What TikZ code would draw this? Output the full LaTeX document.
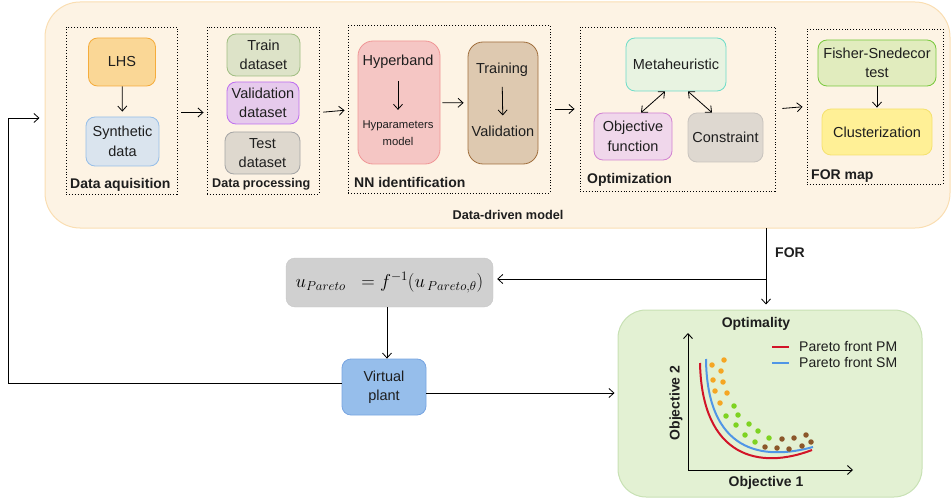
\documentclass[tikz,border=0pt]{standalone}
\usepackage{graphicx}
\usepackage{fontspec}
\setmainfont{Liberation Sans}
\usetikzlibrary{arrows.meta,calc}

\definecolor{ddmfill}{RGB}{253,243,228}
\definecolor{ddmline}{RGB}{250,222,178}
\definecolor{lhsfill}{RGB}{250,215,150}
\definecolor{lhsline}{RGB}{245,172,60}
\definecolor{synfill}{RGB}{218,228,238}
\definecolor{synline}{RGB}{150,190,232}
\definecolor{trnfill}{RGB}{221,227,200}
\definecolor{trnline}{RGB}{160,190,130}
\definecolor{valfill}{RGB}{230,202,236}
\definecolor{valline}{RGB}{190,110,240}
\definecolor{tstfill}{RGB}{222,216,206}
\definecolor{tstline}{RGB}{165,165,165}
\definecolor{hypfill}{RGB}{245,198,196}
\definecolor{hypline}{RGB}{240,150,150}
\definecolor{tvfill}{RGB}{222,201,176}
\definecolor{tvline}{RGB}{160,110,60}
\definecolor{metfill}{RGB}{232,243,225}
\definecolor{metline}{RGB}{110,220,200}
\definecolor{objfill}{RGB}{240,215,235}
\definecolor{objline}{RGB}{210,130,210}
\definecolor{confill}{RGB}{222,216,208}
\definecolor{conline}{RGB}{200,195,190}
\definecolor{fisfill}{RGB}{225,236,190}
\definecolor{fisline}{RGB}{120,200,60}
\definecolor{clufill}{RGB}{255,240,150}
\definecolor{cluline}{RGB}{245,225,110}
\definecolor{frmfill}{RGB}{208,208,208}
\definecolor{frmline}{RGB}{198,198,198}
\definecolor{vpfill}{RGB}{150,190,235}
\definecolor{vpline}{RGB}{120,165,225}
\definecolor{optfill}{RGB}{227,241,211}
\definecolor{optline}{RGB}{200,225,180}
\definecolor{pmred}{RGB}{210,20,40}
\definecolor{smblue}{RGB}{80,150,230}
\definecolor{dotorange}{RGB}{245,166,35}
\definecolor{dotgreen}{RGB}{126,211,33}
\definecolor{dotbrown}{RGB}{139,87,42}
\definecolor{txt}{RGB}{30,30,30}

\newcommand\bxfont{\fontsize{14.5}{19.5}\selectfont}
\newcommand\lblfont{\fontsize{14}{16}\selectfont\bfseries}

\begin{document}
\begin{tikzpicture}[x=1pt,y=-1pt,
  every node/.style={text=txt},
  box/.style={draw, rounded corners=9pt, line width=0.8pt, align=center,
    inner sep=2pt, font=\bxfont},
  group/.style={draw, dotted, line width=0.9pt, inner sep=0pt},
  lbl/.style={font=\lblfont, inner sep=0pt},
  arr/.style={-{Straight Barb[length=5pt,width=9pt]}, line width=0.8pt},
  darr/.style={{Straight Barb[length=5pt,width=9pt]}-{Straight Barb[length=5pt,width=9pt]}, line width=0.8pt},
  dot/.style={circle, fill=#1, inner sep=0pt, minimum size=5.5pt}
]
\useasboundingbox (0,0) rectangle (951,500);

% data-driven model frame
\node[draw=ddmline, fill=ddmfill, line width=1pt, rounded corners=35pt,
  minimum width=905pt, minimum height=226pt] (ddm) at (497.5,115) {};
\node[font=\fontsize{12.7}{14}\selectfont\bfseries, inner sep=0pt] (ddmlbl) at (508,215) {Data-driven model};

% stage frames
\node[group, minimum width=111pt, minimum height=167pt] (da) at (121.5,110.5) {};
\node[group, minimum width=112pt, minimum height=167pt] (dp) at (263,110.5) {};
\node[group, minimum width=202pt, minimum height=168pt] (nn) at (449,109) {};
\node[group, minimum width=195pt, minimum height=164pt] (op) at (677.5,109) {};
\node[group, minimum width=136pt, minimum height=155pt] (fm) at (875,106.5) {};

\node[lbl, anchor=west] (dalbl) at (70,185) {Data aquisition};
\node[lbl, anchor=west, font=\fontsize{12.6}{14}\selectfont\bfseries] (dplbl) at (212,184) {Data processing};
\node[lbl, anchor=west] (nnlbl) at (354,182) {NN identification};
\node[lbl, anchor=west] (oplbl) at (587,180) {Optimization};
\node[lbl, anchor=west] (fmlbl) at (811,176) {FOR map};

% data acquisition
\node[box, draw=lhsline, fill=lhsfill, minimum width=67pt, minimum height=48pt] (lhs) at (122,62) {LHS};
\node[box, draw=synline, fill=synfill, minimum width=73pt, minimum height=49pt] (syn) at (122.5,141.5) {Synthetic\\data};
\draw[arr, shorten >=5pt] (lhs) -- (syn);

% data processing
\node[box, draw=trnline, fill=trnfill, minimum width=73pt, minimum height=42pt] (trn) at (263.5,55) {Train\\dataset};
\node[box, draw=valline, fill=valfill, minimum width=72pt, minimum height=42pt] (val) at (263,103) {Validation\\dataset};
\node[box, draw=tstline, fill=tstfill, minimum width=75pt, minimum height=42pt] (tst) at (262.5,153) {Test\\dataset};

% NN identification
\node[box, draw=hypline, fill=hypfill, rounded corners=15pt, minimum width=82pt, minimum height=123pt] (hyp) at (399,102.5) {};
\node[font=\bxfont, inner sep=0pt] (hyptxt) at (398,62) {Hyperband};
\node[font=\fontsize{11.3}{17}\selectfont, align=center, inner sep=0pt] (hpmtxt) at (398,133.5) {Hyparameters\\model};
\draw[arr, shorten <=12pt, shorten >=11pt] (hyptxt) -- (hpmtxt);

\node[box, draw=tvline, fill=tvfill, rounded corners=15pt, minimum width=70pt, minimum height=122pt] (tv) at (503,103) {};
\node[font=\bxfont, inner sep=0pt] (trtxt) at (502,70) {Training};
\node[font=\bxfont, inner sep=0pt] (vatxt) at (503,131) {Validation};
\draw[arr, shorten <=10pt, shorten >=10pt] (trtxt) -- (vatxt);
\draw[arr, shorten <=2pt, shorten >=4pt] (hyp) -- (tv);

% optimization
\node[box, draw=metline, fill=metfill, minimum width=100pt, minimum height=53pt] (met) at (676,64.5) {Metaheuristic};
\node[box, draw=objline, fill=objfill, minimum width=78pt, minimum height=47pt] (obj) at (633,136.5) {Objective\\function};
\node[box, draw=conline, fill=confill, minimum width=75pt, minimum height=49pt] (con) at (725.5,137.5) {Constraint};
\draw[darr] ([xshift=-11pt]met.south) -- ([xshift=8pt]obj.north);
\draw[darr] ([xshift=12pt]met.south) -- ([xshift=-13.5pt]con.north);

% FOR map
\node[box, draw=fisline, fill=fisfill, minimum width=118pt, minimum height=46pt] (fis) at (877,63) {Fisher-Snedecor\\test};
\node[box, draw=cluline, fill=clufill, minimum width=110pt, minimum height=46pt] (clu) at (877,132) {Clusterization};
\draw[arr, shorten >=1pt] (fis) -- (clu);

% links between stages
\draw[arr, shorten <=4pt, shorten >=3pt] ([yshift=-2pt]da.east) -- ([yshift=-2pt]dp.west);
\draw[arr, shorten <=4pt, shorten >=3pt] ([yshift=-2pt]dp.east) -- ([yshift=-1pt]nn.west);
\draw[arr, shorten <=5pt, shorten >=5pt] (nn.east) -- (op.west);
\draw[arr, shorten <=7pt, shorten >=4pt] (op.east) -- (fm.west);

% lower part
\node[draw=frmline, fill=frmfill, rounded corners=9pt, minimum width=207pt, minimum height=49pt,
  text=black, font=\fontsize{17.28}{20}\selectfont] (frm) at (389.5,282.5)
  {\scalebox{1.08}{$u_{Pareto}\;\;=f^{-1}(u_{\,Pareto,\theta})$}};
\node[box, draw=vpline, fill=vpfill, minimum width=84pt, minimum height=56pt] (vp) at (384,387) {Virtual\\plant};

\node[draw=optline, fill=optfill, line width=1pt, rounded corners=28pt,
  minimum width=304pt, minimum height=187pt] (opt) at (770,403.5) {};

\coordinate (forx) at (766,228);
\draw[arr, shorten >=5pt] (forx) -- (forx |- opt.north);
\draw[arr, shorten >=4pt] (forx |- 0,279) -- (frm.east |- 0,279);
\node[lbl, anchor=west] (forlbl) at (775,253) {FOR};

\draw[arr] (frm.south -| 387,0) -- (vp.north -| 387,0);

\coordinate (loopc) at (8,118);
\draw[arr, shorten >=5pt] ($(vp.west)+(0,-4)$) -| (loopc) -- (ddm.west |- loopc);
\draw[arr, shorten >=3pt] ($(vp.east)+(0,6)$) -- (opt.west |- 0,393);

% optimality plot
\node[lbl] (optlbl) at (756,324) {Optimality};
\coordinate (orig) at (688,470);
\draw[arr, line width=0.9pt] (orig) -- (688,333);
\draw[arr, line width=0.9pt] (orig) -- (853,470);
\node[lbl] (ob1) at (766,483) {Objective 1};
\node[lbl, rotate=90] (ob2) at (676,403) {Objective 2};

\draw[pmred, line width=2pt] (700,363) .. controls (702,458) and (760,470) .. (812,450);
\draw[smblue, line width=2pt] (706,359) .. controls (707,452) and (762,461) .. (813,447);

\draw[pmred, line width=2pt] (772,347) -- (789,347);
\node[font=\fontsize{14}{16}\selectfont, anchor=west, inner sep=0pt] (lpm) at (799,347) {Pareto front PM};
\draw[smblue, line width=2pt] (772,363) -- (789,363);
\node[font=\fontsize{14}{16}\selectfont, anchor=west, inner sep=0pt] (lsm) at (799,363) {Pareto front SM};

\foreach \p in {(712,365),(724,360),(721,371),(713,380),(723,382),(715,391),(727,393),(720,403)}
  \node[dot=dotorange] at \p {};
\foreach \p in {(734,406),(726,416),(738,415),(736,425),(749,424),(745,435),(758,431),(755,442),(769,438)}
  \node[dot=dotgreen] at \p {};
\foreach \p in {(782,439),(794,438),(806,435),(765,447),(777,448),(789,449),(802,446),(811,442)}
  \node[dot=dotbrown] at \p {};
\end{tikzpicture}
\end{document}
